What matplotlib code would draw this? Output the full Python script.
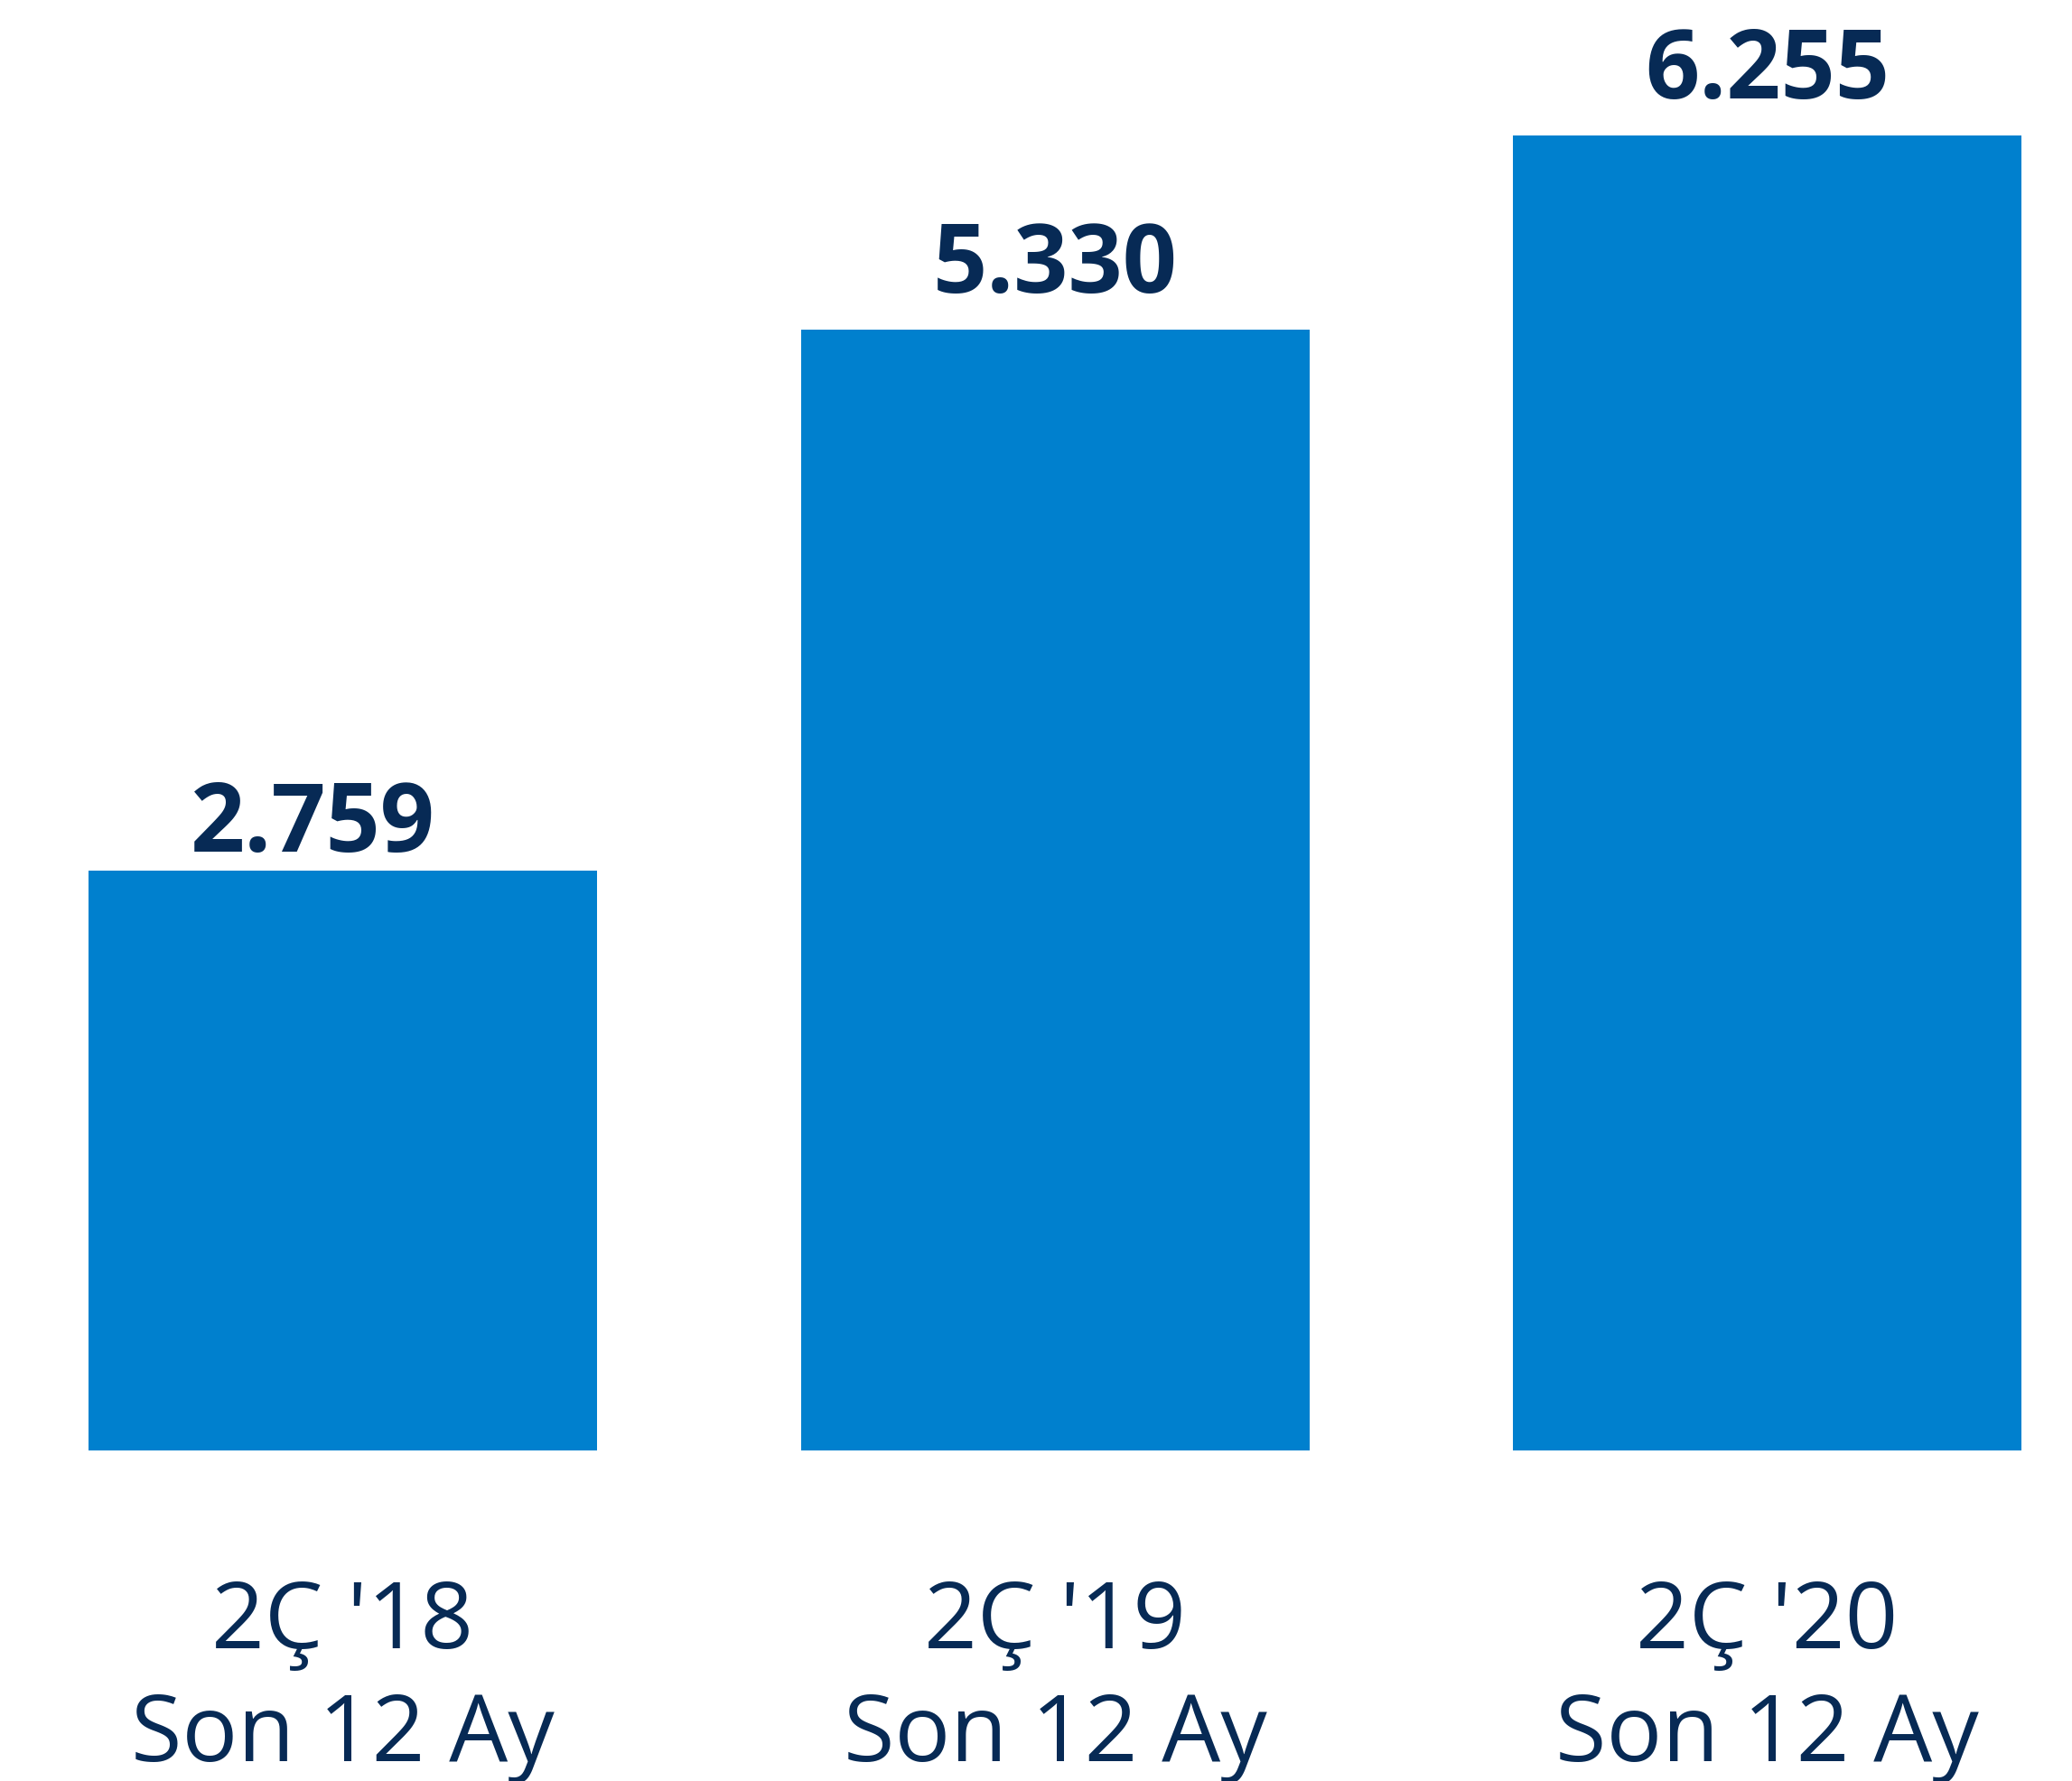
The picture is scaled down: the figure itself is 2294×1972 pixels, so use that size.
import matplotlib.pyplot as plt

categories = ["2Ç '18\nSon 12 Ay", "2Ç '19\nSon 12 Ay", "2Ç '20\nSon 12 Ay"]
values = [2759, 5330, 6255]
value_labels = ["2.759", "5.330", "6.255"]

bar_color = '#0080CE'
text_color = '#072A55'

plt.rcParams['font.family'] = ['Open Sans', 'DejaVu Sans']

fig = plt.figure(figsize=(22.94, 19.72), dpi=100)
ax = fig.add_axes([0, 0, 1, 1])
x = list(range(len(values)))
ax.bar(x, values, width=0.714, color=bar_color)

ax.set_xlim(-0.4813, 2.428)
ax.set_ylim(-1572, 6899)
ax.axis('off')

# value labels above bars (first one sits a bit closer/left in the original)
offsets = [(-23, 14), (0, 28), (0, 28)]
for xi, v, lab, (dx, dy) in zip(x, values, value_labels, offsets):
    ax.annotate(lab, (xi, v), xytext=(dx * 1.05, dy * 1.05), textcoords='offset points',
                ha='center', va='baseline', fontsize=76, fontweight='bold',
                color=text_color)

# category labels under bars
for xi, c in zip(x, categories):
    ax.text(xi, -1479, c, ha='center', va='baseline', fontsize=74,
            color=text_color, linespacing=1.29)

fig.savefig('out.png', dpi=100)
